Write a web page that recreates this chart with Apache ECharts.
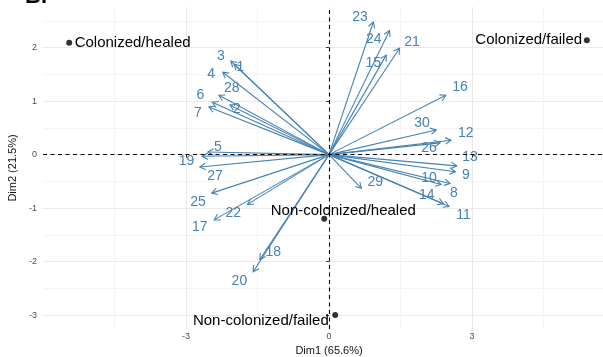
<!DOCTYPE html>
<html>
<head>
<meta charset="utf-8">
<script src="https://cdn.jsdelivr.net/npm/echarts@6/dist/echarts.min.js"></script>
<style>
html,body{margin:0;padding:0;background:#fff;}
#c{width:603px;height:357px;}
</style>
</head>
<body>
<div id="c"></div>
<script>
// ---- data ----
const varNames = ['1','2','3','4','5','6','7','8','9','10','11','12','13','14','15','16','17','18','19','20','21','22','23','24','25','26','27','28','29','30'];
const dim1 = [-1.99,-2.08,-2.06,-2.23,-2.54,-2.45,-2.52,2.54,2.65,2.35,2.52,2.56,2.68,2.40,1.20,2.45,-2.41,-1.45,-2.66,-1.59,1.48,-1.71,0.93,1.27,-2.46,2.33,-2.71,-2.31,0.68,2.25];
const dim2 = [1.69,0.93,1.75,1.54,0.05,0.98,0.89,-0.54,-0.32,-0.56,-0.97,0.27,-0.21,-0.92,1.86,1.11,-1.22,-1.96,-0.03,-2.19,1.99,-0.93,2.48,2.32,-0.72,0.22,-0.23,1.11,-0.63,0.46];
const labelDim1 = [-1.86,-1.93,-2.27,-2.47,-2.33,-2.70,-2.75,2.62,2.87,2.10,2.82,2.87,2.96,2.05,0.93,2.75,-2.71,-1.17,-2.99,-1.88,1.74,-2.01,0.65,0.94,-2.75,2.10,-2.39,-2.04,0.97,1.95];
const labelDim2 = [1.64,0.85,1.84,1.51,0.14,1.11,0.78,-0.72,-0.38,-0.44,-1.13,0.40,-0.05,-0.76,1.71,1.27,-1.35,-1.83,-0.12,-2.36,2.11,-1.10,2.57,2.16,-0.88,0.12,-0.41,1.25,-0.51,0.59];

const groups = ['Colonized/healed','Colonized/failed','Non-colonized/healed','Non-colonized/failed'];
const groupDim1 = [-5.45, 5.41, -0.10, 0.13];
const groupDim2 = [2.09, 2.14, -1.20, -3.00];
const groupLabelDim1 = [-4.12, 4.19, 0.30, -1.43];
const groupLabelDim2 = [2.09, 2.14, -1.05, -3.11];

const xMajorTicks = [-3, 0, 3];
const xMinorTicks = [-4.5, -1.5, 1.5, 4.5];
const yMajorTicks = [-3, -2, -1, 0, 1, 2];
const yMinorTicks = [-2.5, -1.5, -0.5, 0.5, 1.5, 2.5];
const xTitle = 'Dim1 (65.6%)';
const yTitle = 'Dim2 (21.5%)';
const panelTag = 'B.';

// ---- chart ----
const FONT = '"Liberation Sans", Arial, Helvetica, sans-serif';
const BLUE = '#4682B4';
const chart = echarts.init(document.getElementById('c'), null, {renderer: 'canvas'});

const varData = varNames.map((n, i) => [dim1[i], dim2[i], labelDim1[i], labelDim2[i], n]);
const groupData = groups.map((g, i) => [groupDim1[i], groupDim2[i], groupLabelDim1[i], groupLabelDim2[i], g]);

const X_MIN = -6, X_MAX = 6, Y_MIN = -3.26, Y_MAX = 2.76;

const majorAxisCommon = {
  axisLine: {show: false},
  axisTick: {show: true, length: 3, lineStyle: {color: '#333', width: 1}},
  axisLabel: {color: '#4d4d4d', fontSize: 9, fontFamily: FONT},
  splitLine: {show: true, lineStyle: {color: '#e9e9e9', width: 1}}
};
const minorAxisCommon = {
  axisLine: {show: false},
  axisTick: {show: false},
  axisLabel: {show: false},
  splitLine: {show: true, lineStyle: {color: '#f4f4f4', width: 1}}
};

chart.setOption({
  backgroundColor: '#fff',
  animation: false,
  grid: {left: 43, right: -12, top: 7, bottom: 28, containLabel: false, outerBoundsMode: 'none'},
  xAxis: [
    Object.assign({
      type: 'value', min: X_MIN, max: X_MAX, position: 'bottom',
      name: xTitle, nameLocation: 'middle', nameGap: 14,
      nameTextStyle: {color: '#111', fontSize: 11, fontFamily: FONT}
    }, majorAxisCommon, {
      axisTick: {show: true, length: 3, customValues: xMajorTicks, lineStyle: {color: '#333'}},
      axisLabel: {color: '#4d4d4d', fontSize: 9, fontFamily: FONT, margin: 3, customValues: xMajorTicks}
    }),
    Object.assign({type: 'value', min: X_MIN, max: X_MAX, position: 'bottom'}, minorAxisCommon, {
      axisTick: {show: false, customValues: xMinorTicks},
      axisLabel: {show: false, customValues: xMinorTicks}
    })
  ],
  yAxis: [
    Object.assign({
      type: 'value', min: Y_MIN, max: Y_MAX, position: 'left',
      name: yTitle, nameLocation: 'middle', nameGap: 25, nameRotate: 90,
      nameTextStyle: {color: '#111', fontSize: 11, fontFamily: FONT}
    }, majorAxisCommon, {
      axisTick: {show: true, length: 3, customValues: yMajorTicks, lineStyle: {color: '#333'}},
      axisLabel: {color: '#4d4d4d', fontSize: 9, fontFamily: FONT, margin: 6, customValues: yMajorTicks}
    }),
    Object.assign({type: 'value', min: Y_MIN, max: Y_MAX, position: 'left'}, minorAxisCommon, {
      axisTick: {show: false, customValues: yMinorTicks},
      axisLabel: {show: false, customValues: yMinorTicks}
    })
  ],
  graphic: [{
    type: 'text', left: 25, top: -14,
    style: {text: panelTag, fill: '#000', font: 'bold 22px ' + FONT}
  }],
  series: [
    {
      type: 'scatter', xAxisIndex: 0, yAxisIndex: 0, data: [], silent: true,
      markLine: {
        silent: true, symbol: 'none', label: {show: false},
        lineStyle: {color: '#000', type: [4, 3.5], width: 1.1},
        data: [{xAxis: 0}, {yAxis: 0}]
      }
    },
    {
      type: 'custom', xAxisIndex: 0, yAxisIndex: 0, data: varData, silent: true,
      renderItem: function (params, api) {
        const o = api.coord([0, 0]);
        const t = api.coord([api.value(0), api.value(1)]);
        const l = api.coord([api.value(2), api.value(3)]);
        const ang = Math.atan2(t[1] - o[1], t[0] - o[0]);
        const L = 6.5, a = Math.PI / 6;
        const p1 = [t[0] - L * Math.cos(ang - a), t[1] - L * Math.sin(ang - a)];
        const p2 = [t[0] - L * Math.cos(ang + a), t[1] - L * Math.sin(ang + a)];
        return {
          type: 'group',
          children: [
            {type: 'line', shape: {x1: o[0], y1: o[1], x2: t[0], y2: t[1]}, style: {stroke: BLUE, lineWidth: 1.1}},
            {type: 'polyline', shape: {points: [p1, t, p2]}, style: {stroke: BLUE, lineWidth: 1.1, fill: null}},
            {type: 'text', x: l[0], y: l[1], style: {text: varData[params.dataIndex][4], fill: BLUE, font: '14px ' + FONT, align: 'center', verticalAlign: 'middle'}}
          ]
        };
      }
    },
    {
      type: 'scatter', xAxisIndex: 0, yAxisIndex: 0, silent: true,
      data: groupData.map(d => [d[0], d[1]]),
      symbol: 'circle', symbolSize: 6,
      itemStyle: {color: '#000'}
    },
    {
      type: 'custom', xAxisIndex: 0, yAxisIndex: 0, data: groupData, silent: true,
      renderItem: function (params, api) {
        const l = api.coord([api.value(2), api.value(3)]);
        return {type: 'text', x: l[0], y: l[1], style: {text: groupData[params.dataIndex][4], fill: '#000', font: '15px ' + FONT, align: 'center', verticalAlign: 'middle'}};
      }
    }
  ]
});
</script>
</body>
</html>
